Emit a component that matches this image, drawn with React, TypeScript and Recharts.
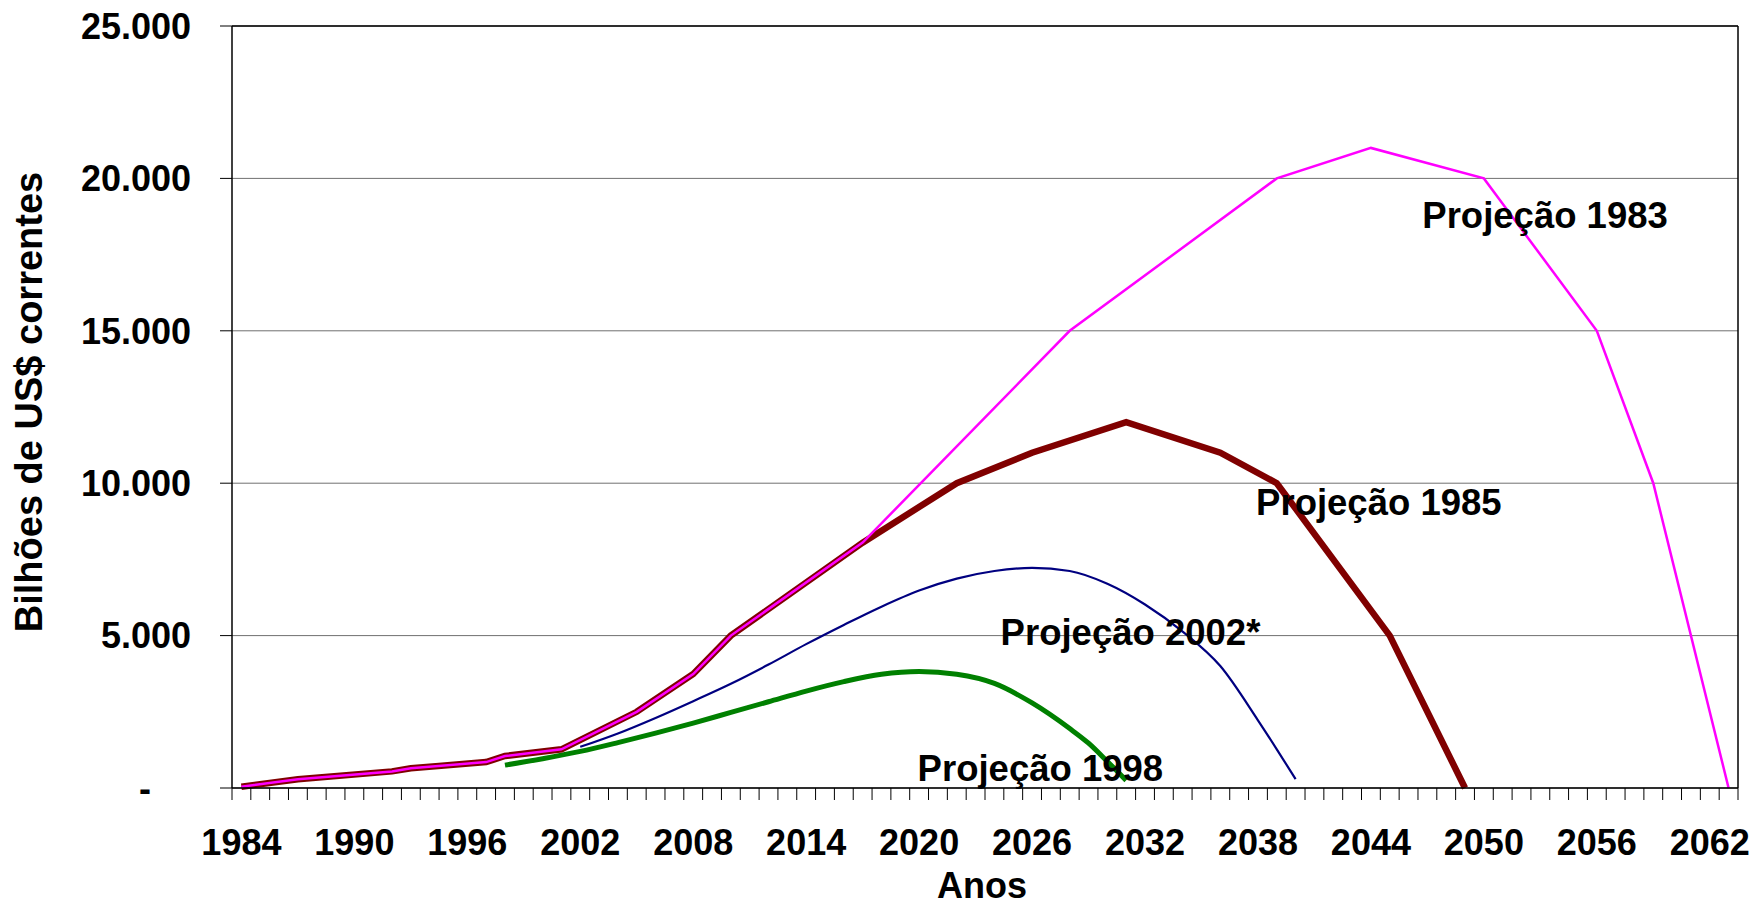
import React from 'react';
import {
  LineChart,
  Line,
  XAxis,
  YAxis,
  CartesianGrid,
  ReferenceLine,
  ReferenceDot,
  Label,
} from 'recharts';

const FONT = '"Liberation Sans", Arial, Helvetica, sans-serif';

// Shared historical path (common to the 1983 and 1985 projections)
const histYears = [1984, 1987, 1992, 1993, 1997, 1998, 2001, 2005, 2008, 2010, 2017];
const histValues = [40, 290, 545, 645, 850, 1050, 1270, 2500, 3740, 5000, 8050];

// Projeção 1985 (after the shared path)
const proj1985Years = [2022, 2026, 2031, 2036, 2039, 2045, 2049];
const proj1985Values = [10000, 11000, 12000, 11000, 10000, 5000, 0];

// Projeção 1983 (after the shared path)
const proj1983Years = [2028, 2039, 2044, 2050, 2056, 2059, 2063];
const proj1983Values = [15000, 20000, 21000, 20000, 15000, 10000, 0];

// Projeção 2002*
const proj2002Years = [2002, 2004, 2006, 2008, 2010, 2012, 2014, 2016, 2018, 2020, 2022, 2024, 2026, 2028, 2030, 2032, 2034, 2036, 2038, 2039, 2040];
const proj2002Values = [1350, 1790, 2300, 2850, 3420, 4050, 4720, 5350, 5950, 6480, 6870, 7120, 7220, 7120, 6700, 6020, 5130, 4000, 2220, 1270, 290];

// Projeção 1998
const proj1998Years = [1998, 2000, 2002, 2004, 2006, 2008, 2010, 2012, 2014, 2016, 2018, 2020, 2022, 2024, 2026, 2028, 2029, 2030, 2031];
const proj1998Values = [750, 960, 1200, 1490, 1800, 2130, 2480, 2830, 3180, 3490, 3730, 3820, 3730, 3430, 2790, 1950, 1470, 870, 250];

const yTicks = [0, 5000, 10000, 15000, 20000, 25000];
const xLabelYears = [1984, 1990, 1996, 2002, 2008, 2014, 2020, 2026, 2032, 2038, 2044, 2050, 2056, 2062];

// Text annotations anchored in data space (year, value) at the text's left baseline
const annoTexts = ['Projeção 1983', 'Projeção 1985', 'Projeção 2002*', 'Projeção 1998'];
const annoYears = [2046.73, 2037.9, 2024.33, 2019.92];
const annoValues = [18370, 8960, 4690, 230];

const zip = (ys: number[], vs: number[]) => ys.map((y, i) => ({ year: y, value: vs[i] }));

const series1985 = zip([...histYears, ...proj1985Years], [...histValues, ...proj1985Values]);
const series1983 = zip([...histYears, ...proj1983Years], [...histValues, ...proj1983Values]);
const series2002 = zip(proj2002Years, proj2002Values);
const series1998 = zip(proj1998Years, proj1998Values);

const W = 1752;
const H = 905;
const MARGIN = { top: 26, right: 14, left: 0, bottom: 0 };
const Y_AXIS_W = 232;
const X_AXIS_H = 117;
const X_MIN = 1983.5;
const X_MAX = 2063.5;
const PLOT_W = W - Y_AXIS_W - MARGIN.right - MARGIN.left;
const STEP = PLOT_W / (X_MAX - X_MIN);

const boundaryTicks: number[] = [];
for (let b = X_MIN; b <= X_MAX; b += 1) boundaryTicks.push(b);

const fmtThousands = (v: number) => {
  if (v === 0) return '-';
  const th = Math.floor(v / 1000);
  const rest = String(v % 1000).padStart(3, '0');
  return `${th}.${rest}`;
};

const YTick = (props: any) => {
  const { x, y, payload } = props;
  const v = payload.value;
  const dx = v === 0 ? -40 : 0;
  return (
    <text
      x={x + dx}
      y={y}
      dy="0.355em"
      textAnchor="end"
      fontFamily={FONT}
      fontSize={36}
      fontWeight="bold"
      fill="#000"
    >
      {fmtThousands(v)}
    </text>
  );
};

const XTick = (props: any) => {
  const { x, y, payload } = props;
  const year = payload.value + 0.5;
  if (!xLabelYears.includes(year)) return <g />;
  return (
    <text
      x={x + STEP / 2}
      y={y}
      dy="0.71em"
      textAnchor="middle"
      fontFamily={FONT}
      fontSize={36}
      fontWeight="bold"
      fill="#000"
    >
      {year}
    </text>
  );
};

const annoLabel = (text: string) => (props: any) => {
  const vb = props.viewBox || {};
  return (
    <text
      x={vb.x}
      y={vb.y}
      textAnchor="start"
      fontFamily={FONT}
      fontSize={36.5}
      fontWeight="bold"
      fill="#000"
    >
      {text}
    </text>
  );
};

const YTitle = (props: any) => {
  const vb = props.viewBox;
  const x = vb.x + 42;
  const y = vb.y + vb.height / 2 - 5;
  return (
    <text
      x={x}
      y={y}
      transform={`rotate(-90, ${x}, ${y})`}
      textAnchor="middle"
      fontFamily={FONT}
      fontSize={38}
      fontWeight="bold"
      fill="#000"
    >
      Bilhões de US$ correntes
    </text>
  );
};

const XTitle = (props: any) => {
  const vb = props.viewBox;
  const x = vb.x + vb.width / 2 - 3;
  const y = vb.y + 110;
  return (
    <text
      x={x}
      y={y}
      textAnchor="middle"
      fontFamily={FONT}
      fontSize={36}
      fontWeight="bold"
      fill="#000"
    >
      Anos
    </text>
  );
};

export default function App() {
  return (
    <div style={{ position: 'absolute', left: 0, top: 0, width: W, height: H, background: '#fff' }}>
      <LineChart width={W} height={H} margin={MARGIN}>
        <CartesianGrid horizontal vertical={false} stroke="#707070" strokeWidth={1} />
        <XAxis
          dataKey="year"
          type="number"
          domain={[X_MIN, X_MAX]}
          allowDataOverflow
          ticks={boundaryTicks}
          interval={0}
          height={X_AXIS_H}
          tickSize={12}
          tickMargin={29}
          axisLine={{ stroke: '#000', strokeWidth: 1.5 }}
          tickLine={{ stroke: '#000', strokeWidth: 1 }}
          tick={<XTick />}
        >
          <Label content={<XTitle />} />
        </XAxis>
        <YAxis
          type="number"
          domain={[0, 25000]}
          ticks={yTicks}
          interval={0}
          width={Y_AXIS_W}
          tickSize={12}
          tickMargin={29}
          axisLine={{ stroke: '#000', strokeWidth: 1.5 }}
          tickLine={{ stroke: '#000', strokeWidth: 1 }}
          tick={<YTick />}
        >
          <Label content={<YTitle />} />
        </YAxis>
        <ReferenceLine y={25000} stroke="#000" strokeWidth={1.5} />
        <ReferenceLine x={X_MAX} stroke="#000" strokeWidth={1.5} />
        <Line
          data={series1998}
          dataKey="value"
          type="monotone"
          stroke="#008000"
          strokeWidth={5}
          dot={false}
          activeDot={false}
          isAnimationActive={false}
        />
        <Line
          data={series2002}
          dataKey="value"
          type="monotone"
          stroke="#000080"
          strokeWidth={2.2}
          dot={false}
          activeDot={false}
          isAnimationActive={false}
        />
        <Line
          data={series1985}
          dataKey="value"
          type="linear"
          stroke="#800000"
          strokeWidth={6.5}
          dot={false}
          activeDot={false}
          isAnimationActive={false}
        />
        <Line
          data={series1983}
          dataKey="value"
          type="linear"
          stroke="#FF00FF"
          strokeWidth={2.5}
          dot={false}
          activeDot={false}
          isAnimationActive={false}
        />
        {annoTexts.map((t, i) => (
          <ReferenceDot
            key={t}
            x={annoYears[i]}
            y={annoValues[i]}
            r={0}
            fill="none"
            stroke="none"
            label={annoLabel(t)}
          />
        ))}
      </LineChart>
    </div>
  );
}
